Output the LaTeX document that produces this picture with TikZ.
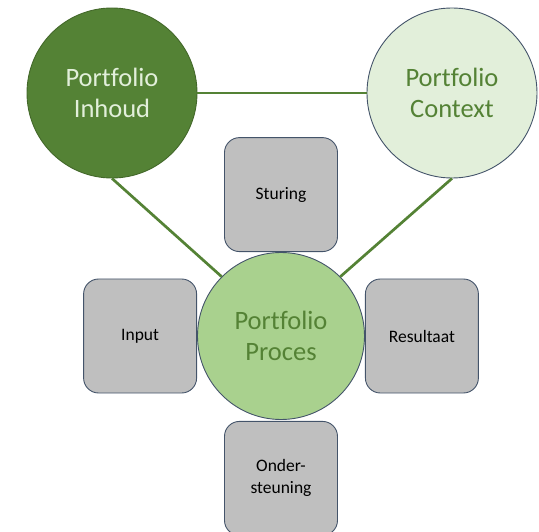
\documentclass[tikz,border=0pt]{standalone}
\usepackage{fontspec}
\setmainfont{Carlito}[Ligatures=NoCommon]
\usetikzlibrary{positioning}

\definecolor{inhoudgreen}{HTML}{548235}
\definecolor{contextgreen}{HTML}{E2EFDA}
\definecolor{procesgreen}{HTML}{A9D18E}
\definecolor{boxgray}{HTML}{BFBFBF}
\definecolor{slate}{HTML}{44546A}

\tikzstyle{bigcircle} = [circle, minimum size=170pt, inner sep=0pt, align=center, line width=0.9pt, font=\fontsize{26.5}{31}\selectfont]
\tikzstyle{processbox} = [rectangle, rounded corners=15pt, minimum width=113pt, minimum height=114pt, inner sep=0pt, align=center, draw=slate, line width=0.9pt, fill=boxgray, font=\fontsize{17.5}{22}\selectfont]
\tikzstyle{link} = [draw=inhoudgreen, line width=2.7pt]

\begin{document}
\begin{tikzpicture}[x=1pt,y=-1pt]
\useasboundingbox (0,0) rectangle (539,532);

\node (inhoud) [bigcircle, draw=inhoudgreen!80!black, fill=inhoudgreen, text=contextgreen] at (112,93) {Portfolio\\Inhoud};
\node (context) [bigcircle, draw=slate, fill=contextgreen, text=inhoudgreen] at (452,93) {Portfolio\\Context};
\node (proces) [bigcircle, minimum size=167pt, draw=slate, fill=procesgreen, text=inhoudgreen] at (281,336) {Portfolio\\Proces};

\node (sturing) [processbox, above=0pt of proces] {Sturing};
\node (input) [processbox, left=0pt of proces] {Input};
\node (resultaat) [processbox, right=0pt of proces] {Resultaat};
\node (steun) [processbox, below=1pt of proces] {Onder-\\steuning};

\draw [link] (inhoud.east) -- (context.west);
\draw [link] (inhoud.south) -- (proces.135);
\draw [link] (context.south) -- (proces.45);

\end{tikzpicture}
\end{document}
